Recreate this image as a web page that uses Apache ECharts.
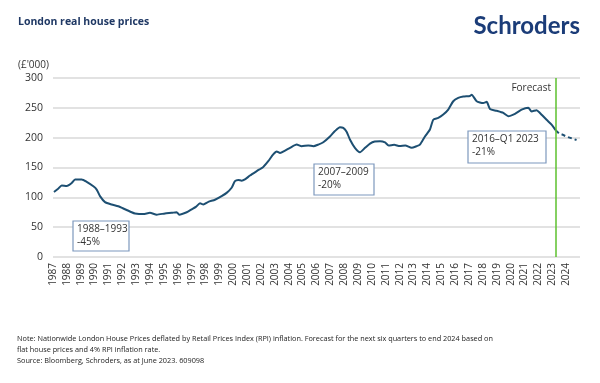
<!DOCTYPE html>
<html><head><meta charset="utf-8">
<script src="https://cdn.jsdelivr.net/npm/echarts@6/dist/echarts.min.js"></script>
<style>html,body{margin:0;padding:0;background:#fff}#c{width:600px;height:383px}</style>
</head><body><div id="c"></div>
<script>
// Decimal-year x, real price (£'000) y
const actualPoints = [
  [1987.07,109],[1987.35,114],[1987.63,120],[1987.99,119],[1988.35,124],[1988.59,130],[1989.07,130],
  [1989.43,126],[1989.91,118.5],[1990.15,113],[1990.39,102],[1990.75,92],[1991.23,88],[1991.71,85],
  [1992.19,80],[1992.67,75],[1992.91,73],[1993.51,72],[1993.99,74],[1994.48,71],[1995.07,73],
  [1995.56,74],[1995.92,75],[1996.1,71],[1996.64,75],[1997.0,80],[1997.3,84],[1997.6,90],[1997.84,88],
  [1998.2,92.5],[1998.68,96],[1999.16,102],[1999.52,107.5],[1999.88,116],[2000.12,127],[2000.36,129],
  [2000.6,128],[2000.84,130],[2001.2,136.5],[2001.69,144],[2002.16,151],[2002.52,160.5],[2002.88,172],
  [2003.13,177],[2003.37,174.5],[2003.73,178.4],[2004.09,183],[2004.57,188.4],[2004.93,185.6],
  [2005.41,187],[2005.77,185.6],[2006.13,188.4],[2006.49,192.3],[2006.97,202],[2007.33,211],
  [2007.69,217.5],[2007.93,216.4],[2008.17,210],[2008.41,197],[2008.77,183],[2009.13,175.6],
  [2009.5,183],[2009.86,190],[2010.2,193.5],[2010.58,194],[2010.94,192],[2011.2,187],[2011.6,188],
  [2012.0,186],[2012.4,187],[2012.86,183],[2013.2,185.6],[2013.46,188.4],[2013.82,202],[2014.18,213.6],
  [2014.42,230],[2014.78,233],[2015.14,238.7],[2015.5,247],[2015.86,261],[2016.22,266.7],[2016.58,269],
  [2017.07,270],[2017.19,272],[2017.55,261],[2018.02,258],[2018.27,260],[2018.51,248],[2018.99,245],
  [2019.47,241.5],[2019.83,236],[2020.31,240],[2020.79,247],[2021.27,250],[2021.51,244],[2021.87,246],
  [2022.11,241.5],[2022.59,230],[2022.95,222],[2023.26,212]
];
const forecastPoints = [
  [2023.26,212],[2023.5,207],[2023.75,205],[2024.0,202],[2024.25,200],[2024.5,198],[2024.75,196]
];
const forecastStart = 2023.26;
const xMin = 1987, xMax = 2025, yMin = 0, yMax = 300, yStep = 50;
const annotations = [
  {label: '1988–1993', change: '-45%'},
  {label: '2007–2009', change: '-20%'},
  {label: '2016–Q1 2023', change: '-21%'}
];
const titleText = 'London real house prices';
const unitText = "(£'000)";
const noteLines = [
  'Note: Nationwide London House Prices deflated by Retail Prices Index (RPI) inflation. Forecast for the next six quarters to end 2024 based on',
  'flat house prices and 4% RPI inflation rate.',
  'Source: Bloomberg, Schroders, as at June 2023. 609098'
];

const FONT = '"Open Sans", "Noto Sans", sans-serif';
const boxPos = [
  {x:73, y:221, w:56, h:30},
  {x:314, y:164, w:60, h:31},
  {x:468, y:131, w:78, h:32}
];
const annGraphics = annotations.map((a, i) => ({
  type: 'group', x: boxPos[i].x, y: boxPos[i].y, z: 100,
  children: [
    {type:'rect', z: 100, shape:{x:0,y:0,width:boxPos[i].w,height:boxPos[i].h},
     style:{fill:'#fff', stroke:'#7d98bd', lineWidth:1.2}},
    {type:'text', z: 101, x:4, y:2, style:{text: a.label + '\n' + a.change, fill:'#333',
      font:'10px ' + FONT, lineHeight:13, verticalAlign:'top', align:'left'}}
  ]
}));

const chart = echarts.init(document.getElementById('c'), null, {renderer:'canvas'});
chart.setOption({
  animation: false,
  backgroundColor: '#fff',
  grid: {left: 53, right: 20, top: 78, bottom: 126},
  xAxis: {
    type: 'value', min: xMin, max: xMax, interval: 1,
    axisLine: {show: false}, axisTick: {show: false}, splitLine: {show: false},
    axisLabel: {rotate: 90, margin: 6, color: '#333', fontSize: 10, fontFamily: FONT,
      padding: [4,0,0,0],
      formatter: v => (v >= xMax ? '' : String(v))}
  },
  yAxis: {
    type: 'value', min: yMin, max: yMax, interval: yStep,
    axisLine: {show: false}, axisTick: {show: false},
    splitLine: {lineStyle: {color: '#d9d9d9', width: 1.5}},
    axisLabel: {margin: 10, color: '#333', fontSize: 10.5, fontFamily: FONT}
  },
  series: [
    {type: 'line', data: actualPoints, showSymbol: false, smooth: 0.2,
     lineStyle: {color: '#1d4f72', width: 2}, z: 3,
     markLine: {silent: true, symbol: 'none', label: {show: false},
       lineStyle: {color: '#5cc02e', width: 1.5, type: 'solid'},
       data: [{xAxis: forecastStart}]}},
    {type: 'line', data: forecastPoints, showSymbol: false,
     lineStyle: {color: '#1d4f72', width: 2, type: [4, 3]}, z: 3}
  ],
  graphic: [
    {type:'text', left: 18, top: 17, style:{text: titleText, fill:'#1f3864', font:'bold 10.5px ' + FONT}},
    {type:'text', right: 20, top: 14, style:{text: 'Schroders', fill:'#1b3c78', font:'bold 24px Lato, ' + FONT}},
    {type:'text', left: 18, top: 60, style:{text: unitText, fill:'#333', font:'10px ' + FONT}},
    {type:'text', x: 551, y: 83, style:{text: 'Forecast', fill:'#333', font:'10px ' + FONT, align:'right', verticalAlign:'top'}},
    {type:'text', left: 17, top: 333, style:{text: noteLines.join('\n'), fill:'#222', font:'7.3px ' + FONT, lineHeight: 11}},
    ...annGraphics
  ]
});
</script></body></html>
